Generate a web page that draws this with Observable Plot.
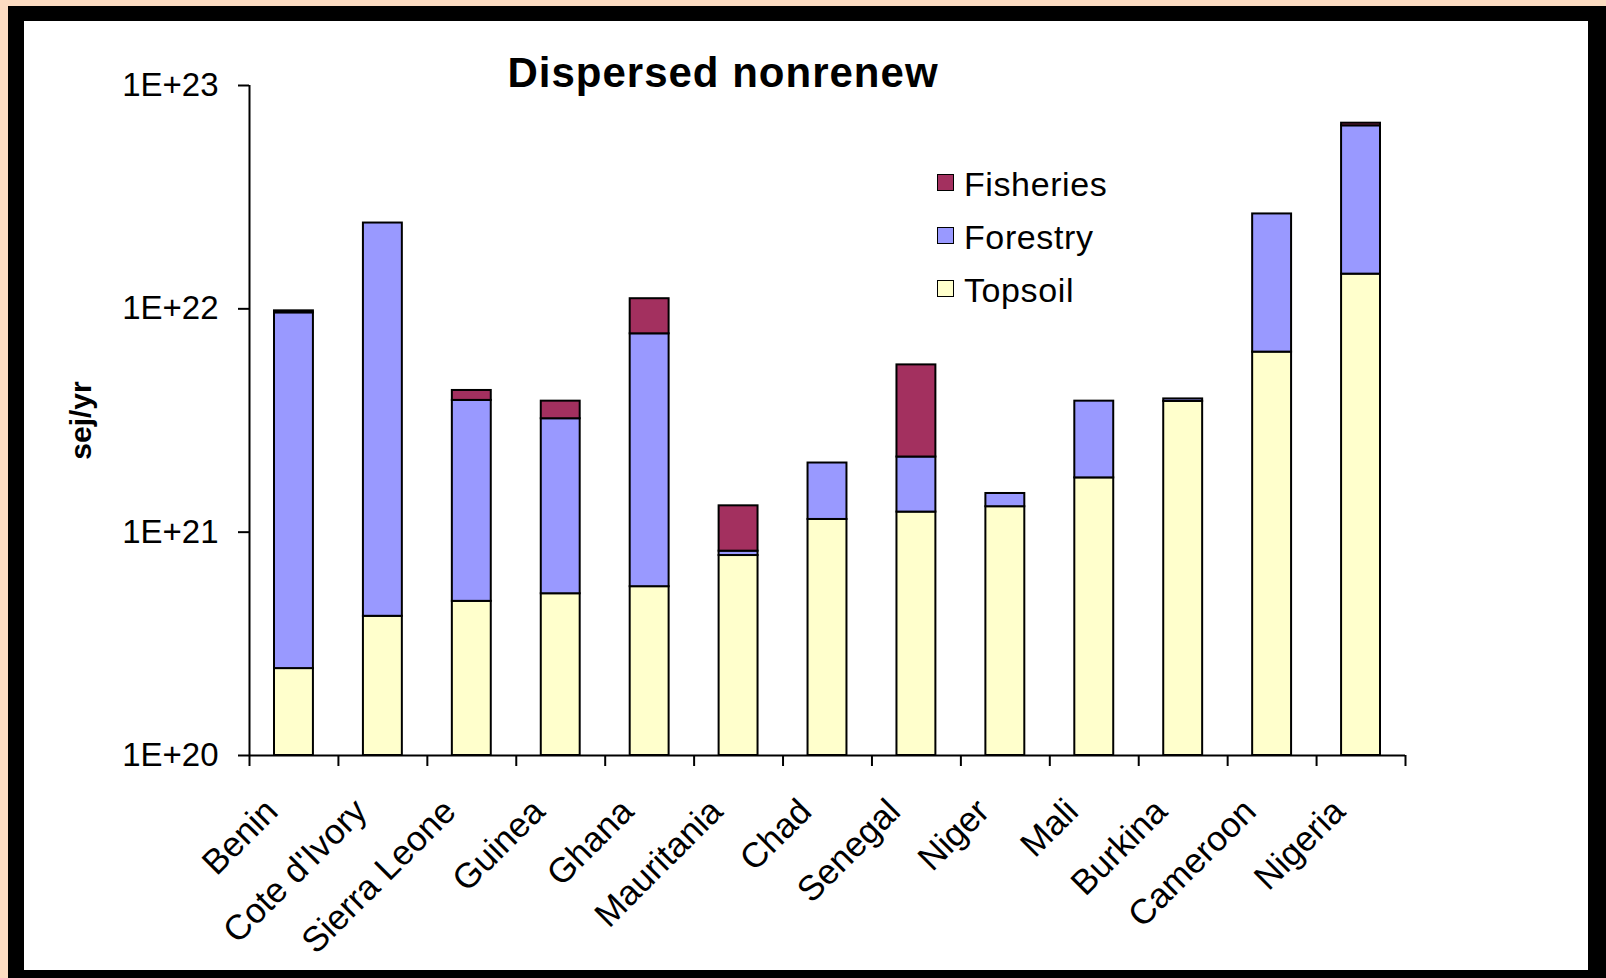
<!DOCTYPE html>
<html><head><meta charset="utf-8">
<script src="https://cdn.jsdelivr.net/npm/d3@7"></script>
<script src="https://cdn.jsdelivr.net/npm/@observablehq/plot@0.6"></script>
<style>
html,body{margin:0;padding:0;overflow:hidden;background:#fcdcc2;width:1606px;height:978px;font-family:"Liberation Sans",Arial,sans-serif;}
#black{position:absolute;left:8px;top:6px;width:1598px;height:972px;background:#000;}
#white{position:absolute;left:24px;top:21px;width:1564px;height:949px;background:#fff;}
#chart{position:absolute;left:0;top:0;}
#title{position:absolute;left:0;width:1446px;text-align:center;top:52px;font-size:42px;line-height:42px;font-weight:bold;color:#000;letter-spacing:1px;}
.leg{position:absolute;font-size:34px;line-height:34px;letter-spacing:0.6px;color:#000;white-space:nowrap;}
.sw{position:absolute;width:15px;height:15px;border:1.5px solid #000;}
g[aria-label="country labels"] text{letter-spacing:4.3px;}
</style></head><body>
<div id="black"></div><div id="white"></div><div id="chart"></div><div id="title"></div><div id="legend"></div>
<script>
const countries = ["Benin","Cote d'Ivory","Sierra Leone","Guinea","Ghana","Mauritania","Chad","Senegal","Niger","Mali","Burkina","Cameroon","Nigeria"];
const topsoil   = [2.45e20, 4.2e20, 4.9e20, 5.3e20, 5.7e20, 7.86e20, 1.14e21, 1.23e21, 1.30e21, 1.75e21, 3.85e21, 6.4e21, 1.43e22];
const forestry  = [9.35e21, 2.38e22, 3.4e21, 2.69e21, 7.16e21, 3.6e19, 9.0e20, 9.4e20, 1.9e20, 2.11e21, 1.0e20, 2.02e22, 5.17e22];
const fisheries = [2.0e20, 0, 4.2e20, 6.4e20, 3.37e21, 4.9e20, 0, 3.44e21, 0, 0, 0, 0, 1.8e21];
const seriesNames  = ["Topsoil","Forestry","Fisheries"];
const seriesColors = ["#ffffcc","#9999ff","#a3305f"];
const yTicks = [1e20, 1e21, 1e22, 1e23];
const yLabel = "sej/yr";
const titleText = "Dispersed nonrenew";

const yMin = yTicks[0], yMax = yTicks[yTicks.length - 1];
const seriesValues = [topsoil, forestry, fisheries];
const rows = [];
countries.forEach((c, i) => {
  let cum = 0;
  seriesValues.forEach((vals, k) => {
    const v = vals[i];
    if (!v) return;
    const lo = cum; cum += v;
    rows.push({country: c, series: seriesNames[k], y1: Math.max(lo, yMin), y2: cum});
  });
});

const W = 1606, H = 978, mL = 249, mR = 201, mT = 85, mB = 223;
const bw = (W - mL - mR) / countries.length;
const fmt = d => "1E+" + Math.round(Math.log10(d));

const chart = Plot.plot({
  width: W, height: H, marginLeft: mL, marginRight: mR, marginTop: mT, marginBottom: mB,
  style: {background: "transparent", fontFamily: "Liberation Sans, Arial, sans-serif", color: "#000", overflow: "visible"},
  x: {domain: countries, padding: 0, round: false, axis: null},
  y: {type: "log", domain: [yMin, yMax], axis: null},
  color: {domain: seriesNames, range: seriesColors},
  marks: [
    Plot.barY(rows, {x: "country", y1: "y1", y2: "y2", fill: "series", stroke: "#000", strokeWidth: 2, insetLeft: 25, insetRight: 25}),
    Plot.axisY({ticks: yTicks, tickFormat: fmt, tickSize: 11, tickPadding: 20, fontSize: 33, strokeWidth: 2, label: null}),
    Plot.ruleX([countries[0]], {dx: -bw / 2, y1: yMin, y2: yMax, stroke: "#000", strokeWidth: 2}),
    Plot.ruleY([yMin], {stroke: "#000", strokeWidth: 2}),
    Plot.ruleX(countries, {dx: -bw / 2, y1: yMin, y2: yMin, insetBottom: -11, stroke: "#000", strokeWidth: 2}),
    Plot.ruleX([countries[countries.length - 1]], {dx: bw / 2, y1: yMin, y2: yMin, insetBottom: -11, stroke: "#000", strokeWidth: 2}),
    Plot.text(countries, {x: d => d, frameAnchor: "bottom", rotate: -45, textAnchor: "end", lineAnchor: "middle", dx: -22, dy: 50, fontSize: 35, fill: "#000", ariaLabel: "country labels"}),
    Plot.text([yLabel], {frameAnchor: "left", rotate: -90, textAnchor: "middle", dx: -168, fontSize: 30, fontWeight: "bold", fill: "#000"})
  ]
});
document.getElementById("chart").appendChild(chart);
document.getElementById("title").textContent = titleText;

// legend (reverse order as in Excel)
const legend = document.getElementById("legend");
const baselines = [302, 249, 196];
seriesNames.forEach((name, k) => {
  const b = baselines[k];
  const sw = document.createElement("div");
  sw.className = "sw";
  sw.style.left = "937px"; sw.style.top = (b - 22) + "px"; sw.style.background = seriesColors[k];
  legend.appendChild(sw);
  const t = document.createElement("div");
  t.className = "leg";
  t.style.left = "964px"; t.style.top = (b - 29) + "px";
  t.textContent = name;
  legend.appendChild(t);
});
</script>
</body></html>
